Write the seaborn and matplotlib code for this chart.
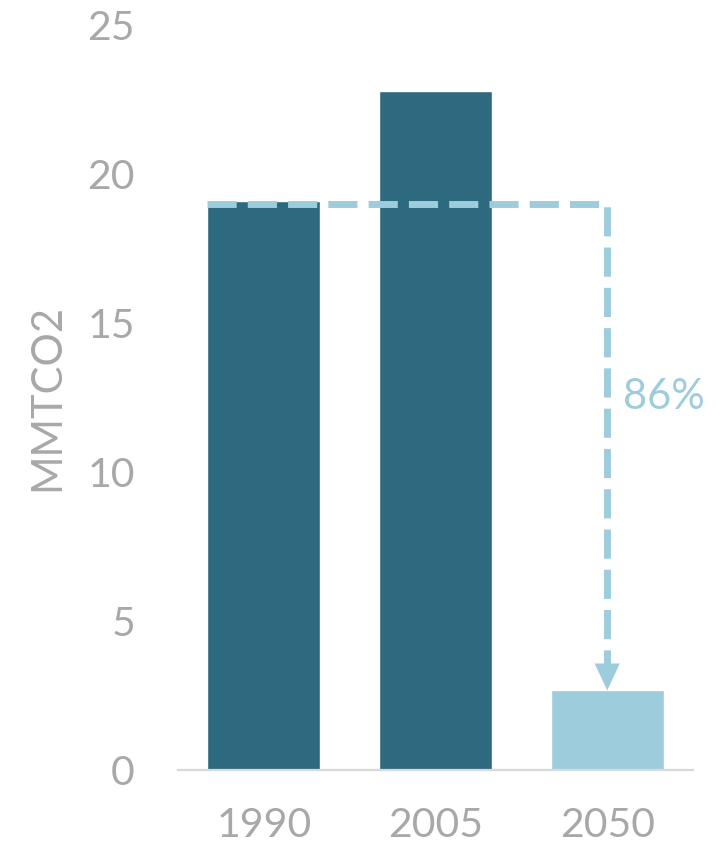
import matplotlib
matplotlib.use("Agg")
import matplotlib.pyplot as plt
import seaborn as sns
import pandas as pd

# Emissions by year (million metric tons CO2)
years = ["1990", "2005", "2050"]
emissions = [19.1, 22.8, 2.67]
bar_colors = ["#2D6A80", "#2D6A80", "#9DCDDD"]

y_ticks = [0, 5, 10, 15, 20, 25]
y_label = "MMTCO2"

sns.set_theme(style="white")
plt.rcParams["font.family"] = ["Lato", "DejaVu Sans"]

gray = "#A8A8A8"
accent = "#9DCDDD"

df = pd.DataFrame({"year": years, "value": emissions})

fig = plt.figure(figsize=(7.28, 8.49), dpi=100)
ax = fig.add_axes([0.2445, 0.0931, 0.7075, 0.8775])

sns.barplot(data=df, x="year", y="value", hue="year", palette=bar_colors,
            width=0.66, saturation=1, legend=False, ax=ax)

ax.set_ylim(0, 25)
ax.set_xlim(-0.5, 2.5)
ax.set_yticks(y_ticks)
ax.set_yticklabels([str(t) for t in y_ticks])
ax.tick_params(axis="both", length=0, labelsize=29.5, labelcolor=gray)
ax.tick_params(axis="x", pad=27)
ax.tick_params(axis="y", pad=31)
ax.set_xlabel("")
ax.set_ylabel(y_label, fontsize=30, color=gray, labelpad=15)

for side in ["top", "right", "left"]:
    ax.spines[side].set_visible(False)
ax.spines["bottom"].set_color("#D9D9D9")
ax.spines["bottom"].set_linewidth(1.6)

# Reduction from the 1990 level down to the 2050 target
start, target = emissions[0], emissions[2]
head_len = 0.78
left_edge = 0 - 0.33
ax.plot([left_edge, 2, 2], [start - 0.1, start - 0.1, target + head_len],
        color=accent, lw=5, linestyle=(0, (4.2, 1.6)),
        solid_capstyle="butt", dash_capstyle="butt", zorder=4)
ax.annotate("", xy=(2, target), xytext=(2, target + head_len),
            arrowprops=dict(arrowstyle="-|>,head_length=1.6,head_width=0.75",
                            color=accent, lw=0.1, shrinkA=0, shrinkB=0),
            zorder=5)

reduction = round((1 - target / start) * 100)
ax.text(2.09, 12.5, f"{reduction}%", fontsize=30, color=accent,
        ha="left", va="center")

fig.savefig("out.png", dpi=100)
